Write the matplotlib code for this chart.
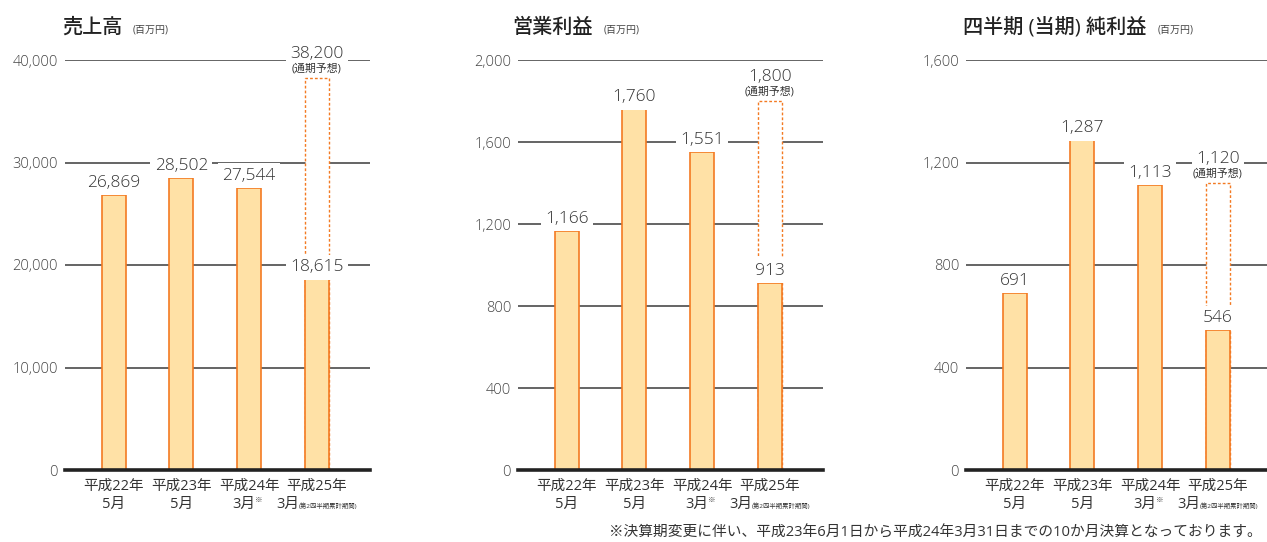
import matplotlib
matplotlib.use('Agg')
import matplotlib.pyplot as plt

plt.rcParams['font.family'] = ['Open Sans', 'Noto Sans CJK JP', 'DejaVu Sans']

W, H = 1267, 542

# data (百万円)
years = ['平成22年', '平成23年', '平成24年', '平成25年']
months = ['5月', '5月', '3月', '3月']
sales = [26869, 28502, 27544, 18615]
sales_fc = 38200
op_profit = [1166, 1760, 1551, 913]
op_fc = 1800
net_profit = [691, 1287, 1113, 546]
net_fc = 1120

titles = ['売上高', '営業利益', '四半期 (当期) 純利益']
unit = '(百万円)'
fc_note = '(通期予想)'
period_note = '(第2四半期累計期間)'
footnote = '※決算期変更に伴い、平成23年6月1日から平成24年3月31日までの10か月決算となっております。'

panels = [
    (sales, sales_fc, [0, 10000, 20000, 30000, 40000], 40000),
    (op_profit, op_fc, [0, 400, 800, 1200, 1600, 2000], 2000),
    (net_profit, net_fc, [0, 400, 800, 1200, 1600], 1600),
]
# pixel layout: left, right, title x, unit x
layout = [(65, 370, 62, 133), (518, 823, 512, 604), (966, 1267, 963, 1158)]

fill = '#FFE1A6'
edge = '#F37A22'
txt = '#333333'

fig = plt.figure(figsize=(W / 100, H / 100), dpi=100)

for (vals, fc, ticks, top), (l, r, tx, ux), title in zip(panels, layout, titles):
    ax = fig.add_axes([l / W, (H - 470) / H, (r - l) / W, 410 / H])
    x0 = l + 0.72 * 67.7
    xmax = (r - x0) / 67.7
    ax.set_xlim(-0.72, xmax)
    ax.set_ylim(0, top)
    for s in ax.spines.values():
        s.set_visible(False)
    ax.set_xticks([])
    ax.set_yticks(ticks)
    ax.set_yticklabels([f'{t:,}' for t in ticks], color='#444444', fontsize=10.5, fontweight='light')
    ax.tick_params(axis='y', length=0, pad=5)
    for t in ticks[1:]:
        ax.axhline(t, color='#3a3a3a', lw=1.1, zorder=1)
    ax.axhline(0, color='#222222', lw=2.6, zorder=5, clip_on=False)

    xs = range(len(vals))
    # forecast bar (dashed)
    ax.bar(3, fc, width=0.355, color='white', edgecolor=edge, lw=1.0, ls=(0, (2, 1.5)), zorder=2)
    ax.bar(xs, vals, width=0.355, color=fill, edgecolor=edge, lw=1.2, zorder=3)

    box = dict(boxstyle='square,pad=0.25', fc='white', ec='none')
    for i, v in enumerate(vals):
        ax.annotate(f'{v:,}', xy=(i, v), xytext=(0, 4), textcoords='offset pixels',
                    ha='center', va='bottom', fontsize=12.5, fontweight='light', color=txt,
                    bbox=box, zorder=6)
    ax.annotate(fc_note, xy=(3, fc), xytext=(0, 4), textcoords='offset pixels',
                ha='center', va='bottom', fontsize=7.8, color=txt, zorder=7,
                bbox=dict(boxstyle='square,pad=0.1', fc='white', ec='none'))
    ax.annotate(f'{fc:,}', xy=(3, fc), xytext=(0, 16), textcoords='offset pixels',
                ha='center', va='bottom', fontsize=12.5, fontweight='light', color=txt,
                bbox=box, zorder=6)

    # x labels
    for i, (y, m) in enumerate(zip(years, months)):
        ax.annotate(y, xy=(i, 0), xytext=(0, -16), textcoords='offset pixels',
                    ha='center', va='center', fontsize=10.5, color=txt, annotation_clip=False)
        if i < 2:
            ax.annotate(m, xy=(i, 0), xytext=(0, -34), textcoords='offset pixels',
                        ha='center', va='center', fontsize=10.5, color=txt, annotation_clip=False)
        elif i == 2:
            ax.annotate(m, xy=(i, 0), xytext=(6, -34), textcoords='offset pixels',
                        ha='right', va='center', fontsize=10.5, color=txt, annotation_clip=False)
            ax.annotate('※', xy=(i, 0), xytext=(6, -30), textcoords='offset pixels',
                        ha='left', va='center', fontsize=5.5, color=txt, annotation_clip=False)
        else:
            ax.annotate(m, xy=(i, 0), xytext=(-18, -34), textcoords='offset pixels',
                        ha='right', va='center', fontsize=10.5, color=txt, annotation_clip=False)
            ax.annotate(period_note, xy=(i, 0), xytext=(-18, -36), textcoords='offset pixels',
                        ha='left', va='center', fontsize=4.6, color=txt, annotation_clip=False)

    fig.text(tx / W, 1 - 33 / H, title, fontsize=14.5, fontweight='medium', color='#222222',
             ha='left', va='baseline')
    fig.text(ux / W, 1 - 32 / H, unit, fontsize=7.2, color='#444444', ha='left', va='baseline')

fig.text(1262 / W, 1 - 533 / H, footnote, fontsize=10.6, color=txt, ha='right', va='center')

fig.savefig('out.png', dpi=100)
